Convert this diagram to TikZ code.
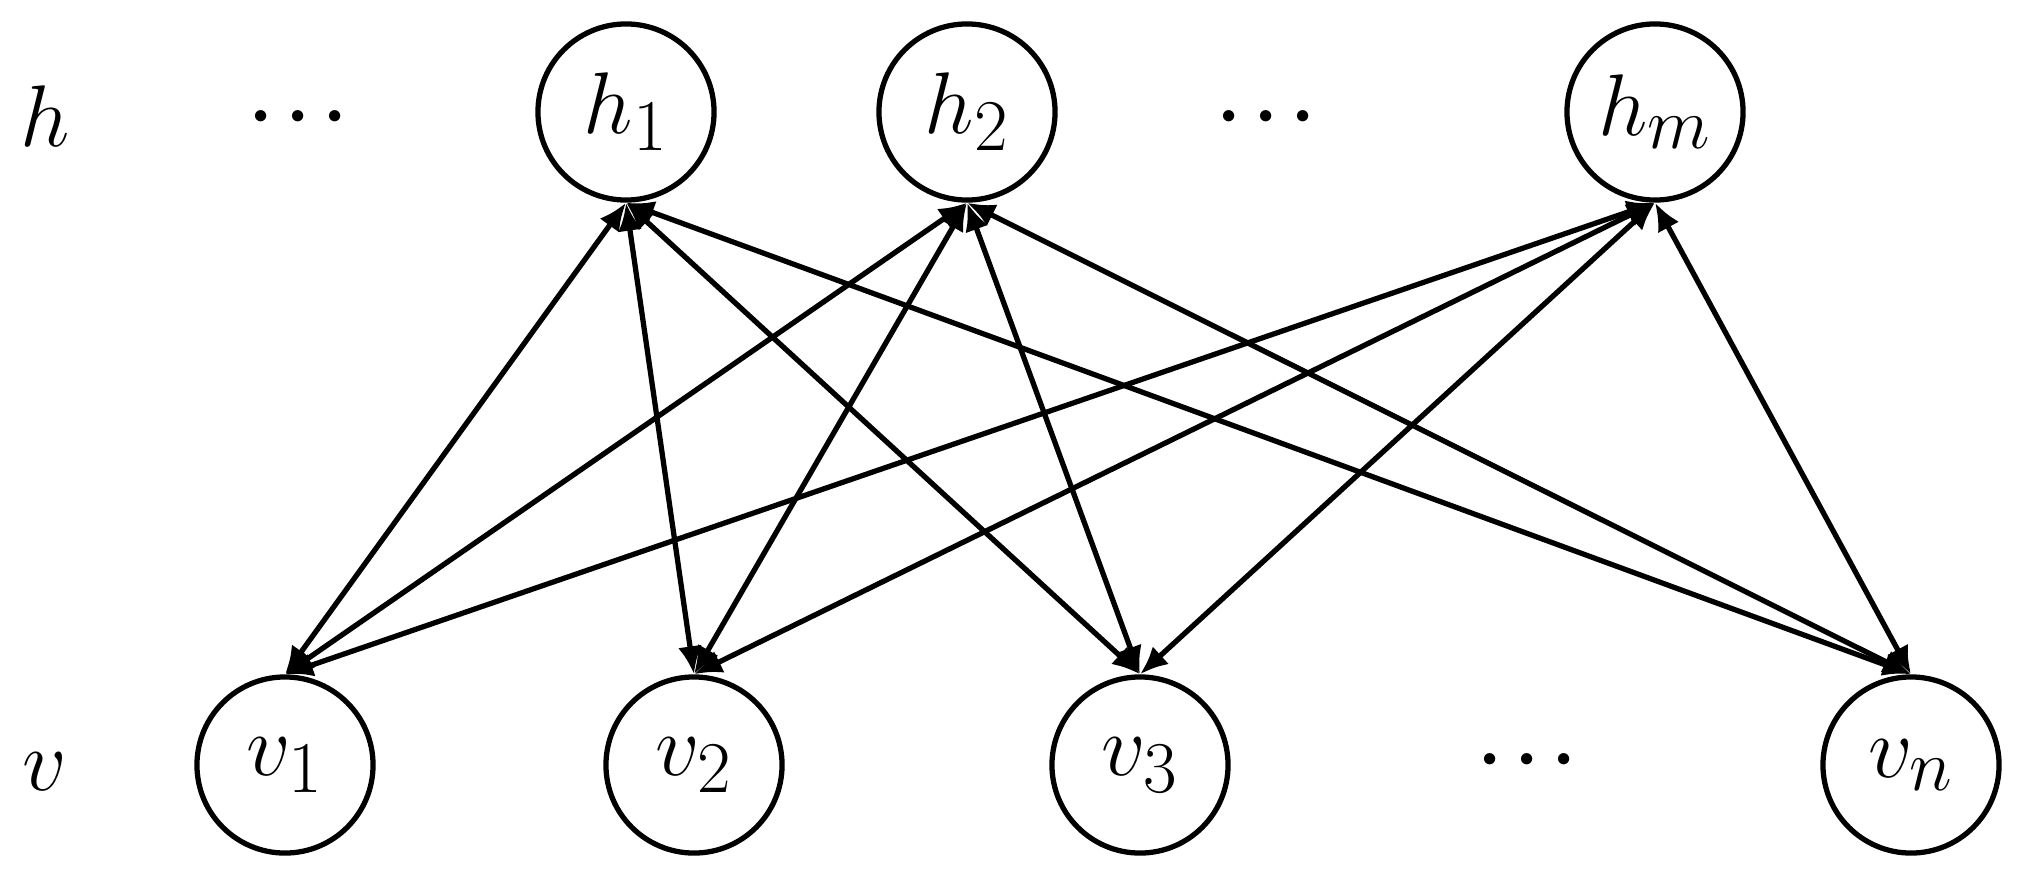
\documentclass[tikz,border=0pt]{standalone}
\usetikzlibrary{arrows.meta}
\begin{document}
\begin{tikzpicture}[x=0.01cm,y=-0.01cm,
  unit/.style={circle,draw,line width=1.5pt,minimum size=1.76cm,inner sep=0pt,font=\fontsize{29}{35}\selectfont},
  lbl/.style={inner sep=0pt,font=\fontsize{29}{35}\selectfont},
  dotsnode/.style={inner sep=0pt,font=\fontsize{21}{25}\selectfont\boldmath},
  link/.style={line width=1.5pt,{Latex[length=0.28cm,width=0.24cm]}-{Latex[length=0.28cm,width=0.24cm]}}]
\useasboundingbox (0,0) rectangle (2019,885);
\node[lbl] (hl) at (45,116) {$h$};
\node[lbl] (vl) at (45,772) {$v$};
\node[dotsnode] (d1) at (298,117) {$\cdots$};
\node[dotsnode] (d2) at (1266,117) {$\cdots$};
\node[dotsnode] (d3) at (1527,760) {$\cdots$};
\node[unit] (h1) at (626,112) {$h_1$};
\node[unit] (h2) at (967,112) {$h_2$};
\node[unit] (hm) at (1655,112) {$h_m$};
\node[unit] (v1) at (285,765) {$v_1$};
\node[unit] (v2) at (694,765) {$v_2$};
\node[unit] (v3) at (1140,765) {$v_3$};
\node[unit] (vn) at (1911,765) {$v_n$};
\foreach \h in {h1,h2,hm}{
  \foreach \v in {v1,v2,v3,vn}{
    \draw[link] (\h.south) -- (\v.north);
  }
}
\end{tikzpicture}
\end{document}
